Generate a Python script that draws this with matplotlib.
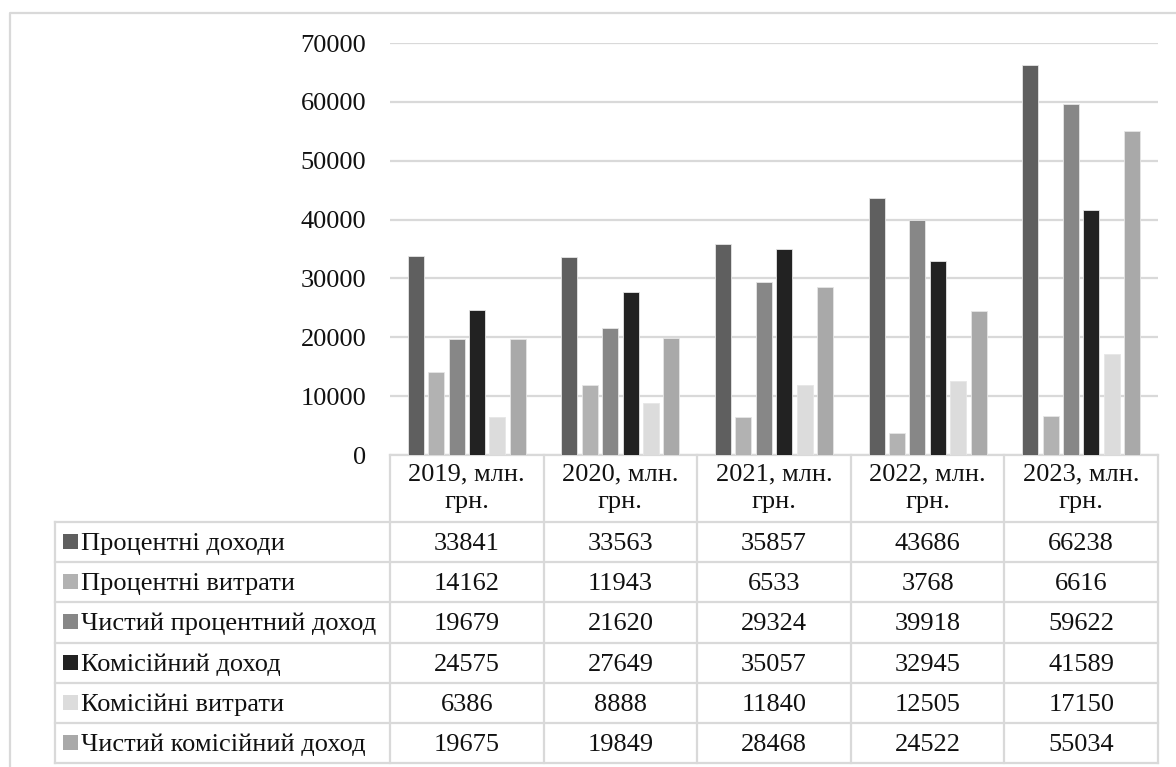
import matplotlib
matplotlib.use("Agg")
import matplotlib.pyplot as plt
from matplotlib import transforms
from matplotlib.lines import Line2D
from matplotlib.patches import Rectangle

years = ["2019", "2020", "2021", "2022", "2023"]
col_labels = [f"{y}, млн.\nгрн." for y in years]

series_names = [
    "Процентні доходи",
    "Процентні витрати",
    "Чистий процентний доход",
    "Комісійний доход",
    "Комісійні витрати",
    "Чистий комісійний доход",
]
interest_income = [33841, 33563, 35857, 43686, 66238]
interest_expense = [14162, 11943, 6533, 3768, 6616]
net_interest = [19679, 21620, 29324, 39918, 59622]
fee_income = [24575, 27649, 35057, 32945, 41589]
fee_expense = [6386, 8888, 11840, 12505, 17150]
net_fee = [19675, 19849, 28468, 24522, 55034]
series_values = [interest_income, interest_expense, net_interest,
                 fee_income, fee_expense, net_fee]
colors = ["#5f5f5f", "#b2b2b2", "#878787", "#222222", "#dcdcdc", "#a9a9a9"]

plt.rcParams["font.family"] = ["Liberation Serif", "DejaVu Serif"]
FS = 19
GRID = "#d9d9d9"
TXT = "#111111"

W, H = 1176, 767
fig = plt.figure(figsize=(W / 100, H / 100), dpi=100)


def fx(px):
    return px / W


def fy(py):
    return 1 - py / H


# plot area
ax = fig.add_axes([fx(390), fy(455), fx(1158) - fx(390), fy(43) - fy(455)])
ax.set_xlim(-0.5, len(years) - 0.5)
ax.set_ylim(0, 70000)
ax.set_yticks(range(0, 70001, 10000))
ax.set_xticks([])
ax.yaxis.grid(True, color=GRID, lw=1.6)
ax.set_axisbelow(True)
for s in ax.spines.values():
    s.set_visible(False)
ax.tick_params(axis="y", length=0, pad=17, labelsize=FS, labelcolor=TXT)

bar_w = 0.104
step = 0.133
for k, (vals, c) in enumerate(zip(series_values, colors)):
    xs = [i + (k - 2.5) * step for i in range(len(years))]
    ax.bar(xs, vals, width=bar_w, color=c, edgecolor="#e6e6e6", lw=0.6, zorder=3)

# data table under the plot
blend = transforms.blended_transform_factory(ax.transData, fig.transFigure)
table_top = 455
head_bot = 522
row_h = (763 - 522) / len(series_names)
row_lines = [head_bot + row_h * r for r in range(len(series_names) + 1)]

line_kw = dict(color=GRID, lw=1.6, clip_on=False)
ax.plot([-0.5, len(years) - 0.5], [fy(table_top)] * 2, transform=blend, **line_kw)
for py in row_lines:
    fig.add_artist(Line2D([fx(55), fx(1158)], [fy(py)] * 2, **line_kw))
for i in range(len(years) + 1):
    ax.plot([i - 0.5] * 2, [fy(table_top), fy(row_lines[-1])], transform=blend, **line_kw)
fig.add_artist(Line2D([fx(55)] * 2, [fy(head_bot), fy(row_lines[-1])], **line_kw))

# column headers
for i, lab in enumerate(col_labels):
    ax.text(i, fy((table_top + head_bot) / 2), lab, transform=blend, ha="center",
            va="center", fontsize=FS, color=TXT, linespacing=1.3)

# row labels with legend keys and values
for r, (name, vals, c) in enumerate(zip(series_names, series_values, colors)):
    mid = row_lines[r] + row_h / 2
    base = fy(mid + 8)
    fig.add_artist(Rectangle((fx(63), fy(mid + 7)), fx(15), fy(0) - fy(15),
                             transform=fig.transFigure, color=c, lw=0))
    fig.text(fx(81), base, name, ha="left", va="baseline", fontsize=FS, color=TXT)
    for i, v in enumerate(vals):
        ax.text(i, base, str(v), transform=blend, ha="center", va="baseline",
                fontsize=FS, color=TXT)

# outer chart border
fig.add_artist(Line2D([fx(10), fx(10), fx(1176)], [fy(767), fy(13), fy(13)],
                      color=GRID, lw=1.6))

fig.savefig("out.png", dpi=100)
